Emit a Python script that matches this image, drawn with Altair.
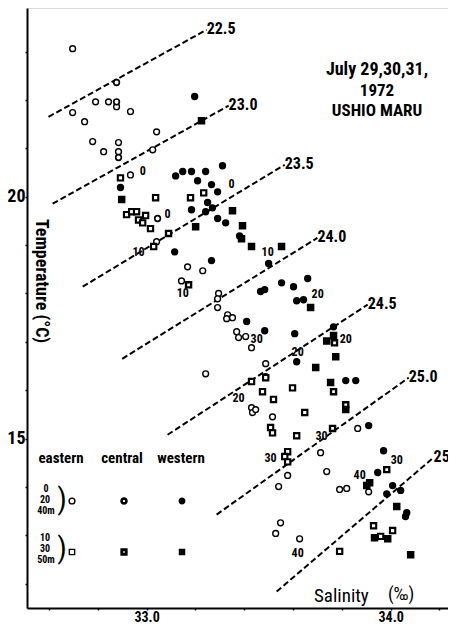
import altair as alt
import pandas as pd

FONT = "Roboto Condensed, Liberation Sans Narrow, Liberation Sans, Arial, sans-serif"

# ---- isopycnals (sigma-t) ----
sigma_levels = ["22.5", "23.0", "23.5", "24.0", "24.5", "25.0", "25.5"]
iso_s_start = [32.598, 32.615, 32.738, 32.900, 33.086, 33.287, 33.533]
iso_t_start = [21.65, 19.855, 18.14, 16.65, 15.08, 13.43, 11.84]
iso_s_end = [33.246, 33.336, 33.566, 33.700, 33.906, 34.074, 34.176]
iso_t_end = [23.45, 21.88, 20.66, 19.15, 17.77, 16.26, 14.61]

# ---- observations ----
# eastern, 0/20/40 m (open circles)
eo_S = [32.697, 32.791, 32.844, 32.877, 32.697, 32.934, 32.746, 33.041, 32.779, 32.885, 32.824, 32.885,
        33.025, 32.934, 33.041, 33.168, 33.230, 33.143, 33.295, 33.291, 33.291, 33.332, 33.328, 33.352,
        33.369, 33.377, 33.406, 33.430, 33.242, 33.488, 33.488, 33.430, 33.434, 33.447, 33.516, 33.865,
        33.713, 33.738, 33.578, 33.541, 33.791, 33.820, 33.910, 33.549, 33.529, 33.627]
eo_T = [23.06, 21.96, 21.96, 21.86, 21.74, 21.76, 21.55, 21.34, 21.14, 21.12, 20.93, 20.93,
        20.97, 20.45, 19.07, 18.55, 18.47, 18.26, 18.00, 17.89, 17.71, 17.56, 17.48, 17.50,
        17.21, 17.09, 17.11, 16.88, 16.34, 16.55, 16.28, 15.64, 15.54, 15.60, 15.45, 15.21,
        14.71, 14.32, 14.24, 14.01, 13.95, 13.97, 13.90, 13.26, 13.04, 12.93]
# central, 0/20/40 m
ec_S = [32.877, 32.877, 32.885, 33.045]
ec_T = [22.36, 21.96, 20.81, 19.55]
# western, 0/20/40 m (filled circles)
ew_S = [33.197, 32.893, 33.119, 33.148, 33.184, 33.242, 33.311, 33.209, 33.266, 33.291, 33.250, 33.184,
        33.242, 33.270, 33.291, 33.324, 33.115, 33.381, 33.266, 33.500, 33.660, 33.553, 33.602, 33.467,
        33.484, 33.615, 33.643, 33.410, 33.484, 33.607, 33.766, 33.615, 33.816, 33.857, 33.910, 33.971,
        33.947, 34.008, 34.041, 33.984, 34.066, 34.061]
ew_T = [22.07, 20.19, 20.43, 20.52, 20.52, 20.52, 20.64, 20.33, 20.25, 20.10, 19.88, 19.73,
        19.69, 19.77, 19.55, 19.46, 18.86, 19.19, 18.68, 18.62, 18.31, 18.22, 18.14, 18.04,
        18.08, 17.85, 17.87, 17.42, 17.23, 17.17, 17.31, 16.59, 16.20, 16.20, 15.27, 14.75,
        14.30, 14.03, 13.93, 13.86, 13.47, 13.39]
# eastern, 10/30/50 m (open squares)
so_S = [32.893, 33.037, 33.180, 33.234, 32.918, 32.939, 32.959, 32.996, 32.967, 32.984, 33.016, 33.029,
        33.430, 33.488, 33.598, 33.475, 33.520, 33.648, 33.508, 33.516, 33.615, 33.578, 33.566, 33.578,
        33.930, 34.008, 33.959, 33.791]
so_T = [20.39, 19.98, 19.98, 20.08, 19.63, 19.69, 19.69, 19.61, 19.52, 19.46, 19.34, 18.97,
        16.18, 16.26, 16.05, 15.97, 15.81, 15.54, 15.23, 15.12, 15.06, 14.73, 14.63, 14.52,
        13.20, 13.10, 12.98, 12.67]
# central, 10/30/50 m
sc_S = [33.090, 33.172, 33.770, 33.766, 33.816, 33.762, 33.984]
sc_T = [19.24, 18.18, 16.98, 15.97, 15.70, 15.21, 14.36]
# western, 10/30/50 m (filled squares)
sw_S = [33.225, 32.898, 33.352, 33.201, 33.393, 33.389, 33.430, 33.553, 33.672, 33.766, 33.738, 33.775,
        33.693, 33.754, 33.816, 33.914, 33.902, 34.025, 33.934, 33.988, 34.082]
sw_T = [21.57, 19.94, 19.71, 19.38, 19.40, 19.13, 18.97, 18.97, 17.71, 17.13, 17.02, 16.69,
        16.47, 16.16, 15.60, 14.09, 14.03, 13.60, 12.95, 12.93, 12.60]

# depth annotations
dl_text = ["0", "0", "0", "10", "10", "10", "20", "20", "20", "20", "30", "30", "30", "30", "40", "40"]
dl_S = [32.984, 33.086, 33.348, 32.967, 33.148, 33.496, 33.701, 33.816, 33.619, 33.377, 33.451, 33.717,
        33.508, 34.025, 33.873, 33.619]
dl_T = [20.54, 19.65, 20.27, 18.86, 18.02, 18.86, 17.98, 17.05, 16.80, 15.85, 17.05, 15.06,
        14.61, 14.55, 14.24, 12.64]

x_tick_values = [32.6, 32.7, 32.8, 32.9, 33.0, 33.1, 33.2, 33.3, 33.4, 33.5, 33.6, 33.7, 33.8, 33.9,
                 34.0, 34.1, 34.2]
y_tick_values = [12, 13, 14, 15, 16, 17, 18, 19, 20, 21, 22, 23]

# ---- tables ----
iso_rows = []
for lvl, s0, t0, s1, t1 in zip(sigma_levels, iso_s_start, iso_t_start, iso_s_end, iso_t_end):
    iso_rows.append({"sigma": lvl, "S": s0, "T": t0})
    iso_rows.append({"sigma": lvl, "S": s1, "T": t1})
iso_df = pd.DataFrame(iso_rows)
iso_lab = pd.DataFrame({"sigma": sigma_levels, "S": iso_s_end, "T": iso_t_end})

groups = [("eo", eo_S, eo_T), ("ec", ec_S, ec_T), ("ew", ew_S, ew_T),
          ("so", so_S, so_T), ("sc", sc_S, sc_T), ("sw", sw_S, sw_T)]
pts = pd.concat([pd.DataFrame({"grp": g, "S": s, "T": t}) for g, s, t in groups], ignore_index=True)
dl_df = pd.DataFrame({"txt": dl_text, "S": dl_S, "T": dl_T})

grp_dom = ["eo", "ec", "ew", "so", "sc", "sw"]
shape_sc = alt.Scale(domain=grp_dom, range=["circle", "circle", "circle", "square", "square", "square"])
fill_sc = alt.Scale(domain=grp_dom, range=["white", "white", "black", "white", "white", "black"])
sw_sc = alt.Scale(domain=grp_dom, range=[1.4, 2.6, 1.2, 1.4, 2.8, 1.2])
size_sc = alt.Scale(domain=grp_dom, range=[34, 24, 32, 28, 20, 28])

xs = alt.Scale(domain=[32.51, 34.235], nice=False, zero=False)
ys = alt.Scale(domain=[11.5, 23.9], nice=False, zero=False)

x_enc = alt.X("S:Q", scale=xs, title=None,
              axis=alt.Axis(values=x_tick_values, grid=False,
                            labelExpr="(abs(datum.value-33)<0.001 || abs(datum.value-34)<0.001) ? format(datum.value, '.1f') : ''",
                            tickSize=2, labelPadding=0, labelFontSize=14, labelFont=FONT,
                            labelFontWeight="bold", domainWidth=2, tickWidth=1.5,
                            domainColor="black", tickColor="black", labelColor="black"))
y_enc = alt.Y("T:Q", scale=ys, title=None,
              axis=alt.Axis(values=y_tick_values, grid=False,
                            labelExpr="(datum.value==15 || datum.value==20) ? format(datum.value, 'd') : ''",
                            tickSize=2, labelPadding=0, labelFontSize=18, labelFont=FONT,
                            labelFontWeight="bold", domainWidth=2, tickWidth=1.5,
                            domainColor="black", tickColor="black", labelColor="black"))

iso_lines = alt.Chart(iso_df).mark_line(strokeDash=[6, 3], strokeWidth=2, color="black").encode(
    x=x_enc, y=y_enc, detail="sigma:N")
iso_text = alt.Chart(iso_lab).mark_text(align="left", baseline="middle", dx=0, dy=-1,
                                        font=FONT, fontWeight="bold", fontSize=16,
                                        color="black").encode(
    x=alt.X("S:Q", scale=xs), y=alt.Y("T:Q", scale=ys), text="sigma:N")

points = alt.Chart(pts).mark_point(filled=True, stroke="black", opacity=1, fillOpacity=1).encode(
    x=alt.X("S:Q", scale=xs), y=alt.Y("T:Q", scale=ys),
    shape=alt.Shape("grp:N", scale=shape_sc, legend=None),
    fill=alt.Fill("grp:N", scale=fill_sc, legend=None),
    strokeWidth=alt.StrokeWidth("grp:N", scale=sw_sc, legend=None),
    size=alt.Size("grp:N", scale=size_sc, legend=None))

depth_text = alt.Chart(dl_df).mark_text(font=FONT, fontWeight="bold", fontSize=12,
                                        color="black").encode(
    x=alt.X("S:Q", scale=xs), y=alt.Y("T:Q", scale=ys), text="txt:N")

base = alt.Chart(pd.DataFrame({"a": [0]}))


def label(txt, px, py, size=15, weight="bold", align="center", angle=0):
    kw = dict(text=txt, font=FONT, fontSize=size, fontWeight=weight, align=align,
              baseline="middle", color="black")
    if angle:
        kw["angle"] = angle
    return base.mark_text(**kw).encode(x=alt.value(px), y=alt.value(py))


def sym(shape, fill, sw, size, px, py):
    return base.mark_point(shape=shape, filled=True, fill=fill, stroke="black", strokeWidth=sw,
                           size=size, opacity=1).encode(x=alt.value(px), y=alt.value(py))


annotations = [
    label("July 29,30,31,", 350, 62, 18),
    label("1972", 350, 83, 17),
    label("USHIO  MARU", 350, 103, 17),
    label("Temperature (°C)", 14, 273, 18, angle=90),
    label("Salinity", 287, 588, 19, weight="normal", align="left"),
    label("(‰)", 361, 587, 18, weight="normal", align="left"),
    label("eastern", 34, 450, 15),
    label("central", 95, 450, 15),
    label("western", 154, 450, 15),
    label("0", 19, 481, 10),
    label("20", 18, 492, 10),
    label("40m", 19, 503, 10),
    label(")", 35, 492, 30, weight="normal"),
    label("10", 18, 530, 10),
    label("30", 18, 541, 10),
    label("50m", 19, 552, 10),
    label(")", 35, 541, 30, weight="normal"),
    sym("circle", "white", 1.4, 34, 45, 493),
    sym("circle", "white", 2.6, 24, 97, 493),
    sym("circle", "black", 1.2, 32, 155, 493),
    sym("square", "white", 1.4, 28, 45, 544),
    sym("square", "white", 2.8, 20, 97, 544),
    sym("square", "black", 1.2, 28, 155, 544),
]

chart = alt.layer(iso_lines, iso_text, points, depth_text, *annotations).properties(
    width=421, height=600,
    autosize=alt.AutoSizeParams(type="none"),
    padding={"left": 19, "top": 0, "right": 0, "bottom": 18},
).configure_view(stroke=None).configure(background="white")

chart.save("out.html", embed_options={"renderer": "svg", "actions": False})
